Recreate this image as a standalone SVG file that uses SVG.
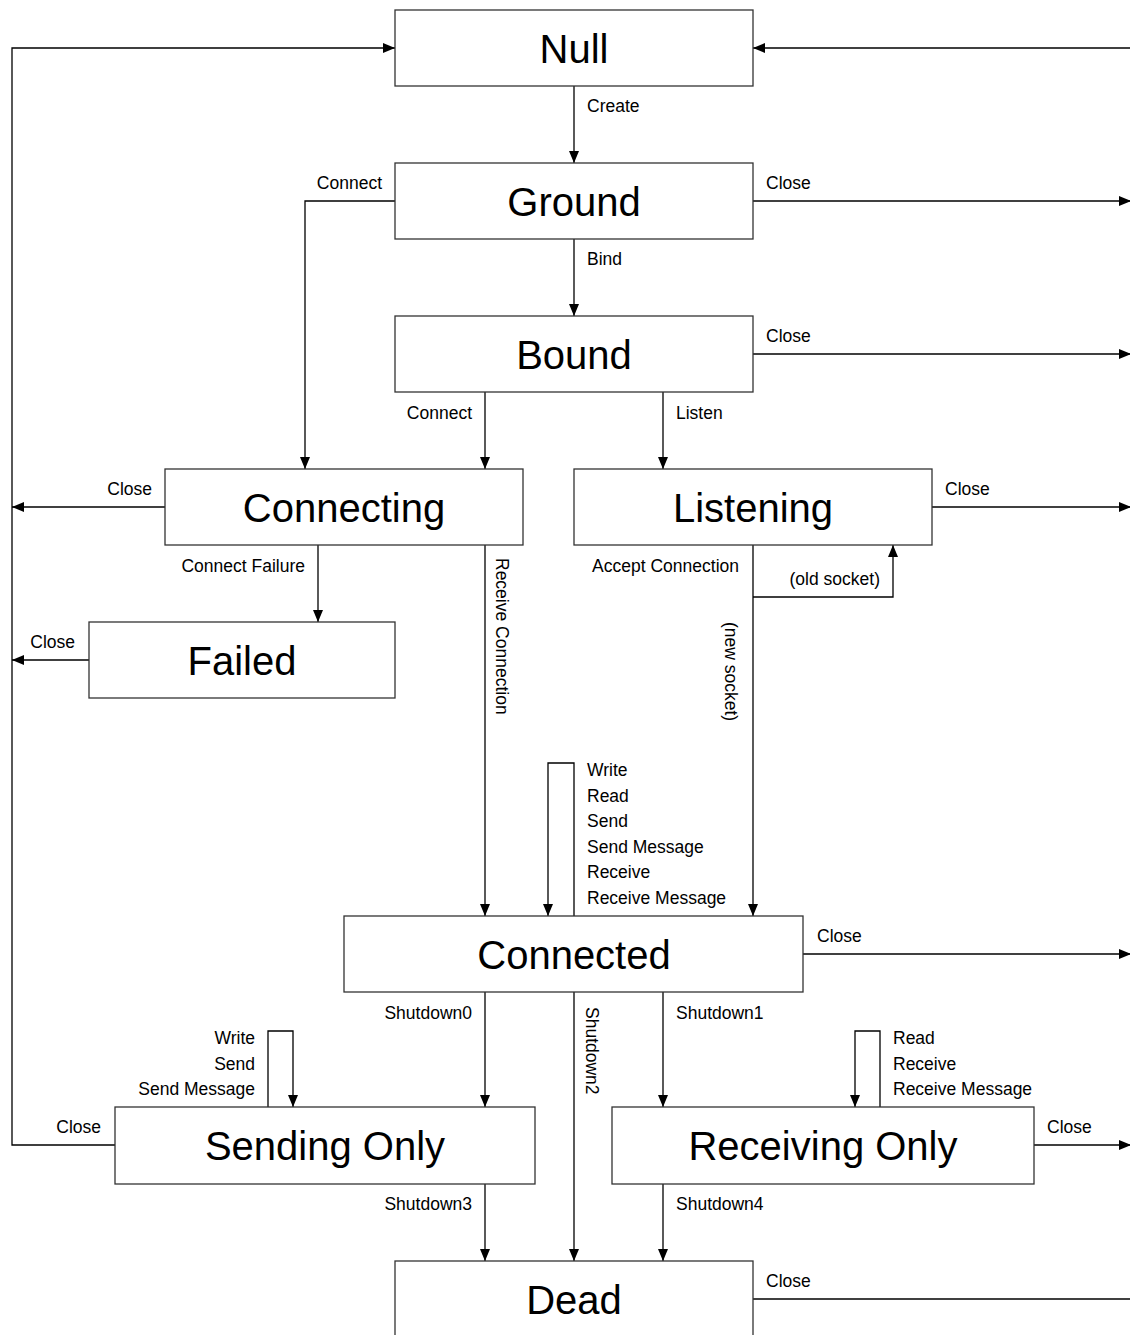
<svg xmlns="http://www.w3.org/2000/svg" width="1130" height="1335" viewBox="0 0 1130 1335">
<style>
.box{fill:#fff;stroke:#333;stroke-width:1.3}
.big{font-family:"Liberation Sans",Arial,sans-serif;font-size:40px;fill:#000;text-anchor:middle}
.lbl{font-family:"Liberation Sans",Arial,sans-serif;font-size:17.5px;fill:#000}
.r{text-anchor:end}
.c{fill:none;stroke:#000;stroke-width:1.3}
</style>
<defs>
<marker id="ah" markerWidth="12" markerHeight="10" refX="12" refY="5" orient="auto" markerUnits="userSpaceOnUse">
<path d="M0,0 L12,5 L0,10 z" fill="#000"/>
</marker>
</defs>
<rect width="1130" height="1335" fill="#fff"/>
<g id="connectors">
<path class="c" d="M115,1145 H12 V48 H395" marker-end="url(#ah)"/>
<path class="c" d="M165,507 H12" marker-end="url(#ah)"/>
<path class="c" d="M89,660 H12" marker-end="url(#ah)"/>
<path class="c" d="M1131,48 H753" marker-end="url(#ah)"/>
<path class="c" d="M753,201 H1131" marker-end="url(#ah)"/>
<path class="c" d="M753,354 H1131" marker-end="url(#ah)"/>
<path class="c" d="M932,507 H1131" marker-end="url(#ah)"/>
<path class="c" d="M803,954 H1131" marker-end="url(#ah)"/>
<path class="c" d="M1034,1145 H1131" marker-end="url(#ah)"/>
<path class="c" d="M753,1299 H1130"/>
<path class="c" d="M574,86 V163" marker-end="url(#ah)"/>
<path class="c" d="M574,239 V316" marker-end="url(#ah)"/>
<path class="c" d="M395,201 H305 V469" marker-end="url(#ah)"/>
<path class="c" d="M485,392 V469" marker-end="url(#ah)"/>
<path class="c" d="M663,392 V469" marker-end="url(#ah)"/>
<path class="c" d="M318,545 V622" marker-end="url(#ah)"/>
<path class="c" d="M485,545 V916" marker-end="url(#ah)"/>
<path class="c" d="M753,545 V916" marker-end="url(#ah)"/>
<path class="c" d="M753,597 H893 V545" marker-end="url(#ah)"/>
<path class="c" d="M574,916 V763 H548 V916" marker-end="url(#ah)"/>
<path class="c" d="M485,992 V1107" marker-end="url(#ah)"/>
<path class="c" d="M574,992 V1261" marker-end="url(#ah)"/>
<path class="c" d="M663,992 V1107" marker-end="url(#ah)"/>
<path class="c" d="M268,1107 V1031 H293 V1107" marker-end="url(#ah)"/>
<path class="c" d="M880,1107 V1031 H855 V1107" marker-end="url(#ah)"/>
<path class="c" d="M485,1184 V1261" marker-end="url(#ah)"/>
<path class="c" d="M663,1184 V1261" marker-end="url(#ah)"/>
</g>
<g id="labels">
<text class="lbl" x="587" y="112">Create</text>
<text class="lbl r" x="382" y="189">Connect</text>
<text class="lbl" x="766" y="189">Close</text>
<text class="lbl" x="587" y="265">Bind</text>
<text class="lbl" x="766" y="342">Close</text>
<text class="lbl r" x="472" y="419">Connect</text>
<text class="lbl" x="676" y="419">Listen</text>
<text class="lbl r" x="152" y="495">Close</text>
<text class="lbl" x="945" y="495">Close</text>
<text class="lbl r" x="305" y="572">Connect Failure</text>
<text class="lbl r" x="739" y="572">Accept Connection</text>
<text class="lbl r" x="880" y="585">(old socket)</text>
<text class="lbl r" x="75" y="648">Close</text>
<text class="lbl" transform="translate(496,558) rotate(90)">Receive Connection</text>
<text class="lbl" transform="translate(725,622) rotate(90)">(new socket)</text>
<text class="lbl" x="587" y="776">Write</text>
<text class="lbl" x="587" y="802">Read</text>
<text class="lbl" x="587" y="827">Send</text>
<text class="lbl" x="587" y="853">Send Message</text>
<text class="lbl" x="587" y="878">Receive</text>
<text class="lbl" x="587" y="904">Receive Message</text>
<text class="lbl" x="817" y="942">Close</text>
<text class="lbl r" x="472" y="1019">Shutdown0</text>
<text class="lbl" x="676" y="1019">Shutdown1</text>
<text class="lbl" transform="translate(586,1007) rotate(90)">Shutdown2</text>
<text class="lbl r" x="255" y="1044">Write</text>
<text class="lbl r" x="255" y="1070">Send</text>
<text class="lbl r" x="255" y="1095">Send Message</text>
<text class="lbl" x="893" y="1044">Read</text>
<text class="lbl" x="893" y="1070">Receive</text>
<text class="lbl" x="893" y="1095">Receive Message</text>
<text class="lbl r" x="101" y="1133">Close</text>
<text class="lbl" x="1047" y="1133">Close</text>
<text class="lbl r" x="472" y="1210">Shutdown3</text>
<text class="lbl" x="676" y="1210">Shutdown4</text>
<text class="lbl" x="766" y="1287">Close</text>
</g>
<g id="null"><rect class="box" x="395" y="10" width="358" height="76"/><text class="big" x="574" y="63">Null</text></g>
<g id="ground"><rect class="box" x="395" y="163" width="358" height="76"/><text class="big" x="574" y="216">Ground</text></g>
<g id="bound"><rect class="box" x="395" y="316" width="358" height="76"/><text class="big" x="574" y="369">Bound</text></g>
<g id="connecting"><rect class="box" x="165" y="469" width="358" height="76"/><text class="big" x="344" y="522">Connecting</text></g>
<g id="listening"><rect class="box" x="574" y="469" width="358" height="76"/><text class="big" x="753" y="522">Listening</text></g>
<g id="failed"><rect class="box" x="89" y="622" width="306" height="76"/><text class="big" x="242" y="675">Failed</text></g>
<g id="connected"><rect class="box" x="344" y="916" width="459" height="76"/><text class="big" x="574" y="969">Connected</text></g>
<g id="sending-only"><rect class="box" x="115" y="1107" width="420" height="77"/><text class="big" x="325" y="1160">Sending Only</text></g>
<g id="receiving-only"><rect class="box" x="612" y="1107" width="422" height="77"/><text class="big" x="823" y="1160">Receiving Only</text></g>
<g id="dead"><rect class="box" x="395" y="1261" width="358" height="90"/><text class="big" x="574" y="1314">Dead</text></g>
</svg>
